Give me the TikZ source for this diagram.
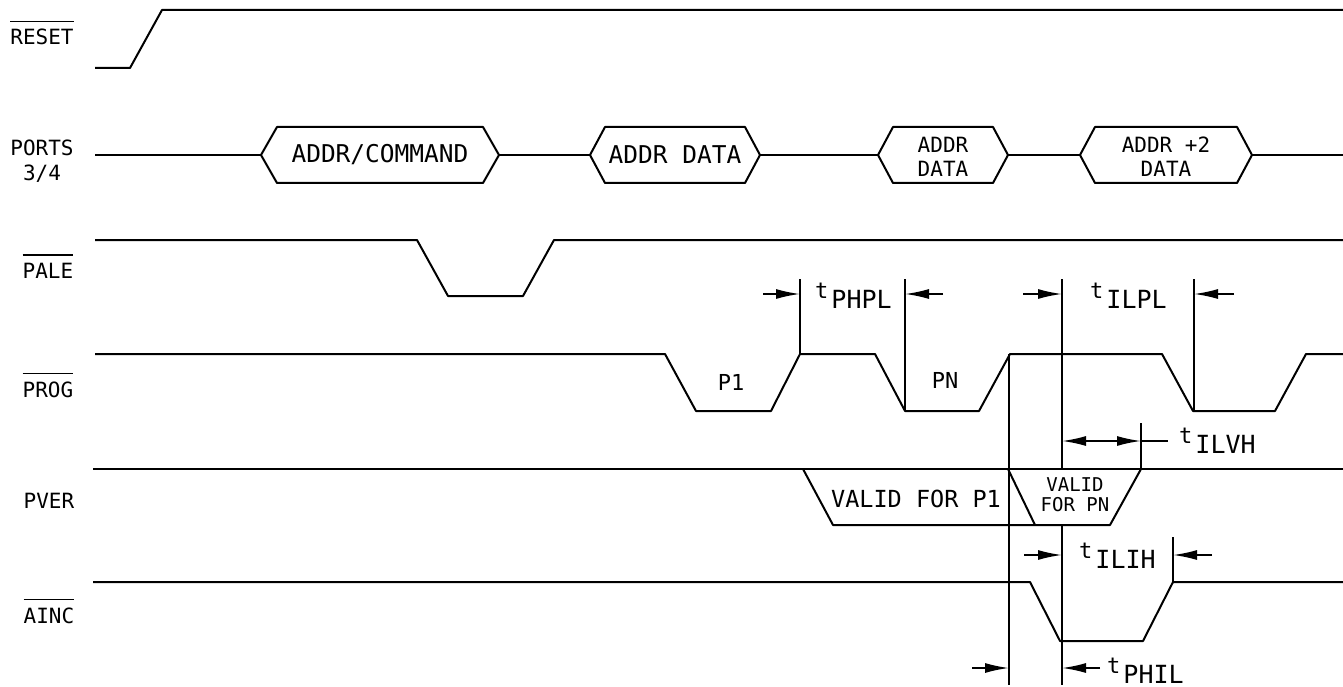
\documentclass[tikz,border=0pt]{standalone}
\usepackage{fontspec}
\newfontfamily\plt{DejaVu Sans Mono}
\usetikzlibrary{arrows.meta}
\newcommand\fsz[2]{\fontsize{#1}{#2}\selectfont}
\newcommand\ovl[1]{\vbox{\hrule height 1.3pt\kern 7pt\hbox{#1}}}
\newcommand\tlab[1]{{\fsz{22}{22}t}\kern3pt\raisebox{-10pt}{\fsz{25}{25}#1}}
\begin{document}
\begin{tikzpicture}[x=1pt,y=-1pt,
  sig/.style={line width=2pt, line join=round},
  vline/.style={line width=1.3pt},
  tip/.style={Latex[length=24pt,width=10pt]},
  dimarr/.style={line width=1.8pt, -{Latex[length=24pt,width=10pt]}},
  dimboth/.style={line width=1.8pt, {Latex[length=24pt,width=10pt]}-{Latex[length=24pt,width=10pt]}},
  lbl/.style={inner sep=0pt, font=\plt\fsz{21}{25}, align=center},
  bigtxt/.style={inner sep=0pt, font=\plt\fsz{24.5}{28}},
  smalltxt/.style={inner sep=0pt, font=\plt\fsz{21}{24}, align=center},
  tinytxt/.style={inner sep=0pt, font=\plt\fsz{19}{20}, align=center},
  validtxt/.style={inner sep=0pt, font=\plt\fsz{23.5}{26}},
  tmtxt/.style={inner sep=0pt, font=\plt, anchor=base west}
]
\useasboundingbox (0,0) rectangle (1343,687);

% ---- signal labels
\node[lbl, anchor=base] (lreset) at (42,45) {\ovl{RESET}};
\node[lbl, anchor=north] (lports) at (42,140) {PORTS\\3/4};
\node[lbl, anchor=base] (lpale) at (48,278) {\ovl{PALE}};
\node[lbl, anchor=base] (lprog) at (48,397) {\ovl{PROG}};
\node[lbl, anchor=base] (lpver) at (49,508) {PVER};
\node[lbl, anchor=base] (lainc) at (49,623) {\ovl{AINC}};

% ---- RESET
\draw[sig] (95,68) -- (130,68) -- (162,10) -- (1343,10);

% ---- PORTS 3/4
\draw[sig] (95,155) -- (261,155);
\draw[sig] (261,155) -- (277,127) -- (483,127) -- (499,155) -- (483,183) -- (277,183) -- cycle;
\draw[sig] (499,155) -- (590,155);
\draw[sig] (590,155) -- (605,127) -- (745,127) -- (760,155) -- (745,183) -- (605,183) -- cycle;
\draw[sig] (760,155) -- (878,155);
\draw[sig] (878,155) -- (893,127) -- (993,127) -- (1008,155) -- (993,183) -- (893,183) -- cycle;
\draw[sig] (1008,155) -- (1080,155);
\draw[sig] (1080,155) -- (1095,127) -- (1237,127) -- (1252,155) -- (1237,183) -- (1095,183) -- cycle;
\draw[sig] (1252,155) -- (1343,155);
\node[bigtxt] (hx1) at (380,155) {ADDR/COMMAND};
\node[bigtxt] (hx2) at (675,155) {ADDR DATA};
\node[smalltxt, anchor=north] (hx3) at (943,137) {ADDR\\DATA};
\node[smalltxt, anchor=north] (hx4) at (1166,137) {ADDR +2\\DATA};

% ---- PALE
\draw[sig] (95,240) -- (417,240) -- (448,296) -- (523,296) -- (554,240) -- (1343,240);

% ---- PROG
\draw[sig] (95,354) -- (665,354) -- (696,411) -- (771,411) -- (800,354) -- (875,354)
  -- (905,411) -- (979,411) -- (1010,354) -- (1162,354) -- (1193,411) -- (1275,411)
  -- (1306,354) -- (1343,354);
\node[lbl, anchor=base, font=\plt\fsz{22}{25}] (p1) at (731,390) {P1};
\node[lbl, anchor=base, font=\plt\fsz{22}{25}] (pn) at (945,388) {PN};

% ---- PVER
\draw[sig] (93,469) -- (1343,469);
\draw[sig] (803,469) -- (833,525) -- (1110,525) -- (1141,469);
\draw[sig] (1008,469) -- (1035,525);
\node[validtxt, anchor=base] (v1) at (916,507) {VALID FOR P1};
\node[tinytxt, anchor=north] (vn) at (1075,477) {VALID\\FOR PN};

% ---- AINC
\draw[sig] (93,582) -- (1030,582) -- (1060,641) -- (1143,641) -- (1173,582) -- (1343,582);

% ---- timing marker lines
\draw[vline] (800,279) -- (800,354);
\draw[vline] (905,279) -- (905,411);
\draw[vline] (1009,354) -- (1009,685);
\draw[vline] (1062,279) -- (1062,469);
\draw[vline] (1062,525) -- (1062,685);
\draw[vline] (1194,279) -- (1194,411);
\draw[vline] (1141,423) -- (1141,469);
\draw[vline] (1173,537) -- (1173,582);

% ---- dimension arrows
\draw[dimarr] (763,294) -- (800,294);
\draw[dimarr] (943,294) -- (905,294);
\draw[dimarr] (1023,294) -- (1062,294);
\draw[dimarr] (1234,294) -- (1194,294);
\draw[dimboth] (1062,441) -- (1141,441);
\draw[line width=1.8pt] (1141,441) -- (1168,441);
\draw[dimarr] (1024,555) -- (1062,555);
\draw[dimarr] (1212,555) -- (1173,555);
\draw[dimarr] (972,668) -- (1009,668);
\draw[dimarr] (1100,668) -- (1062,668);

% ---- timing labels
\node[tmtxt] (tphpl) at (815,298) {\tlab{PHPL}};
\node[tmtxt] (tilpl) at (1090,298) {\tlab{ILPL}};
\node[tmtxt] (tilvh) at (1179,443) {\tlab{ILVH}};
\node[tmtxt] (tilih) at (1079,558) {\tlab{ILIH}};
\node[tmtxt] (tphil) at (1107,673) {\tlab{PHIL}};
\end{tikzpicture}
\end{document}
